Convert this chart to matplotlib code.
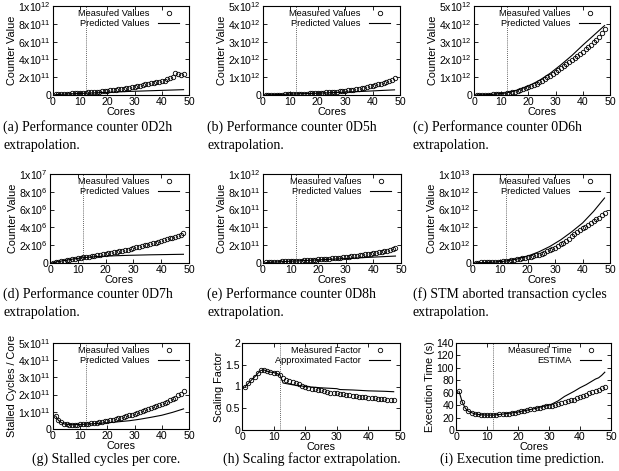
import matplotlib
matplotlib.use('Agg')
import matplotlib.pyplot as plt

plt.rcParams['font.family'] = ['Liberation Sans', 'DejaVu Sans']
plt.rcParams['mathtext.default'] = 'regular'

W, H = 619, 471

cores = list(range(1, 49))
pred_cores = [1, 2, 3, 4, 6, 8, 12, 16, 20, 24, 28, 32, 36, 40, 44, 48]

# (a) 0D2h, units of 1e11
meas_a = [0.10, 0.11, 0.12, 0.13, 0.14, 0.15, 0.17, 0.19, 0.21, 0.23, 0.25, 0.27,
          0.29, 0.31, 0.33, 0.36, 0.39, 0.42, 0.45, 0.48, 0.52, 0.56, 0.60, 0.64,
          0.68, 0.73, 0.78, 0.83, 0.89, 0.95, 1.00, 1.05, 1.12, 1.18, 1.25, 1.32,
          1.38, 1.45, 1.50, 1.55, 1.62, 1.75, 1.95, 2.05, 2.45, 2.40, 2.20, 2.35]
pred_a = [0.05, 0.06, 0.08, 0.09, 0.12, 0.15, 0.20, 0.25, 0.30, 0.35, 0.40, 0.44,
          0.48, 0.52, 0.56, 0.60]

# (b) 0D5h, units of 1e12
meas_b = [0.010, 0.012, 0.015, 0.018, 0.020, 0.024, 0.028, 0.032, 0.037, 0.042, 0.047, 0.053,
          0.059, 0.065, 0.072, 0.079, 0.087, 0.095, 0.104, 0.113, 0.123, 0.133, 0.144, 0.156,
          0.168, 0.181, 0.195, 0.210, 0.226, 0.243, 0.262, 0.282, 0.304, 0.328, 0.354, 0.382,
          0.412, 0.444, 0.478, 0.515, 0.555, 0.598, 0.644, 0.693, 0.745, 0.800, 0.860, 0.950]
pred_b = [0.005, 0.010, 0.015, 0.020, 0.030, 0.040, 0.060, 0.080, 0.100, 0.125, 0.150, 0.175,
          0.200, 0.230, 0.260, 0.290]

# (c) 0D6h, units of 1e12
meas_c = [0.010, 0.012, 0.015, 0.018, 0.022, 0.027, 0.033, 0.040, 0.050, 0.065, 0.080, 0.100,
          0.125, 0.155, 0.190, 0.230, 0.270, 0.320, 0.370, 0.430, 0.490, 0.560, 0.630, 0.710,
          0.800, 0.890, 0.990, 1.090, 1.200, 1.310, 1.410, 1.520, 1.630, 1.740, 1.850, 1.960,
          2.080, 2.200, 2.310, 2.430, 2.560, 2.690, 2.820, 2.960, 3.100, 3.280, 3.480, 3.700]
pred_c = [0.005, 0.008, 0.012, 0.018, 0.030, 0.050, 0.120, 0.270, 0.500, 0.820, 1.220, 1.700,
          2.220, 2.800, 3.350, 3.900]

# (d) 0D7h, units of 1e6
meas_d = [0.05, 0.10, 0.16, 0.22, 0.27, 0.32, 0.37, 0.43, 0.48, 0.53, 0.58, 0.63,
          0.68, 0.73, 0.79, 0.84, 0.90, 0.95, 1.00, 1.04, 1.09, 1.14, 1.19, 1.25,
          1.30, 1.36, 1.42, 1.48, 1.54, 1.70, 1.76, 1.83, 1.90, 1.97, 2.05, 2.13,
          2.21, 2.30, 2.40, 2.50, 2.58, 2.67, 2.76, 2.86, 2.96, 3.07, 3.20, 3.35]
pred_d = [0.05, 0.10, 0.16, 0.22, 0.32, 0.43, 0.60, 0.70, 0.77, 0.82, 0.86, 0.89,
          0.92, 0.94, 0.96, 0.98]

# (e) 0D8h, units of 1e11
meas_e = [0.10, 0.11, 0.12, 0.14, 0.15, 0.16, 0.17, 0.19, 0.20, 0.22, 0.23, 0.25,
          0.26, 0.28, 0.30, 0.32, 0.34, 0.36, 0.38, 0.40, 0.42, 0.44, 0.47, 0.49,
          0.52, 0.55, 0.58, 0.61, 0.64, 0.68, 0.72, 0.75, 0.79, 0.83, 0.88, 0.92,
          0.96, 1.01, 1.05, 1.10, 1.16, 1.22, 1.28, 1.34, 1.40, 1.48, 1.56, 1.65]
pred_e = [0.05, 0.06, 0.08, 0.10, 0.13, 0.17, 0.23, 0.29, 0.35, 0.41, 0.47, 0.53,
          0.60, 0.66, 0.72, 0.78]

# (f) STM aborted transaction cycles, units of 1e12
meas_f = [0.05, 0.05, 0.06, 0.07, 0.08, 0.09, 0.10, 0.11, 0.13, 0.15, 0.18, 0.21,
          0.25, 0.30, 0.35, 0.41, 0.46, 0.51, 0.56, 0.62, 0.70, 0.78, 0.86, 0.95,
          1.05, 1.17, 1.30, 1.43, 1.56, 1.70, 1.90, 2.10, 2.30, 2.52, 2.75, 2.98,
          3.21, 3.44, 3.67, 3.90, 4.10, 4.30, 4.50, 4.70, 4.90, 5.10, 5.35, 5.65]
pred_f = [0.02, 0.03, 0.04, 0.05, 0.07, 0.10, 0.22, 0.45, 0.78, 1.25, 1.85, 2.60,
          3.50, 4.50, 5.80, 7.30]

# (g) stalled cycles per core, units of 1e11
meas_g = [0.75, 0.50, 0.38, 0.30, 0.27, 0.25, 0.25, 0.25, 0.26, 0.27, 0.28, 0.30,
          0.31, 0.33, 0.35, 0.37, 0.40, 0.42, 0.45, 0.48, 0.51, 0.54, 0.58, 0.62,
          0.66, 0.70, 0.74, 0.79, 0.84, 0.89, 0.94, 0.99, 1.04, 1.10, 1.15, 1.21,
          1.27, 1.33, 1.39, 1.45, 1.52, 1.59, 1.66, 1.74, 1.82, 1.95, 2.05, 2.20]
pred_g = [0.75, 0.50, 0.38, 0.30, 0.25, 0.25, 0.28, 0.32, 0.36, 0.42, 0.48, 0.57,
          0.68, 0.80, 0.97, 1.17]

# (h) scaling factor
meas_h = [1.00, 1.07, 1.15, 1.22, 1.30, 1.37, 1.38, 1.35, 1.33, 1.32, 1.30, 1.27,
          1.20, 1.15, 1.12, 1.10, 1.07, 1.05, 1.02, 1.00, 0.97, 0.95, 0.94, 0.92,
          0.91, 0.89, 0.88, 0.86, 0.85, 0.84, 0.83, 0.82, 0.81, 0.80, 0.79, 0.78,
          0.77, 0.76, 0.75, 0.74, 0.73, 0.73, 0.72, 0.71, 0.71, 0.70, 0.70, 0.68]
approx_h_cores = [1, 2, 3, 4, 5, 6, 7, 8, 9, 10, 11, 12, 13, 16, 20, 25, 30, 31, 35, 40, 45, 48]
approx_h = [1.00, 1.07, 1.15, 1.22, 1.30, 1.37, 1.38, 1.35, 1.33, 1.32, 1.30, 1.27,
            1.08, 1.04, 1.00, 0.97, 0.95, 0.93, 0.92, 0.90, 0.89, 0.88]

# (i) execution time (s)
meas_i = [62, 45, 35, 30, 28, 26, 25, 24.5, 24, 24, 24, 24,
          24.5, 25, 25.5, 26, 26.5, 27, 28, 29, 30, 31, 32, 33,
          34, 35, 36, 37, 38, 38, 39, 40, 42, 43, 45, 46,
          48, 49, 51, 53, 55, 57, 59, 61, 63, 65, 67, 70]
estima_cores = [1, 2, 3, 4, 5, 6, 8, 10, 12, 15, 20, 25, 28, 30, 31, 33, 35, 38,
                40, 42, 44, 45, 46, 47, 48]
estima_i = [62, 45, 35, 30, 28, 26, 24.5, 24, 24, 25.5, 29, 34, 38, 40, 42, 47, 54, 62,
            68, 73, 79, 82, 84, 88, 93]

ticks_2_10_11_12 = ['0', r'2x10$^{11}$', r'4x10$^{11}$', r'6x10$^{11}$', r'8x10$^{11}$', r'1x10$^{12}$']
ticks_1_5_12 = ['0', r'1x10$^{12}$', r'2x10$^{12}$', r'3x10$^{12}$', r'4x10$^{12}$', r'5x10$^{12}$']
ticks_d = ['0', r'2x10$^{6}$', r'4x10$^{6}$', r'6x10$^{6}$', r'8x10$^{6}$', r'1x10$^{7}$']
ticks_f = ['0', r'2x10$^{12}$', r'4x10$^{12}$', r'6x10$^{12}$', r'8x10$^{12}$', r'1x10$^{13}$']
ticks_g = ['0', r'1x10$^{11}$', r'2x10$^{11}$', r'3x10$^{11}$', r'4x10$^{11}$', r'5x10$^{11}$']

# left, top, right, bottom in pixels
panels = [
    dict(box=(53, 6, 189, 95), mx=cores, my=meas_a, px=pred_cores, py=pred_a,
         yt=[0, 2, 4, 6, 8, 10], ytl=ticks_2_10_11_12, ylabel='Counter Value',
         leg=('Measured Values', 'Predicted Values'),
         cap=['(a) Performance counter 0D2h', 'extrapolation.'], cx=3, cy=131, ha='left'),
    dict(box=(263, 6, 400, 95), mx=cores, my=meas_b, px=pred_cores, py=pred_b,
         yt=[0, 1, 2, 3, 4, 5], ytl=ticks_1_5_12, ylabel='Counter Value',
         leg=('Measured Values', 'Predicted Values'),
         cap=['(b) Performance counter 0D5h', 'extrapolation.'], cx=207, cy=131, ha='left'),
    dict(box=(474, 6, 610, 95), mx=cores, my=meas_c, px=pred_cores, py=pred_c,
         yt=[0, 1, 2, 3, 4, 5], ytl=ticks_1_5_12, ylabel='Counter Value',
         leg=('Measured Values', 'Predicted Values'),
         cap=['(c) Performance counter 0D6h', 'extrapolation.'], cx=413, cy=131, ha='left'),
    dict(box=(50, 174, 189, 263), mx=cores, my=meas_d, px=pred_cores, py=pred_d,
         yt=[0, 2, 4, 6, 8, 10], ytl=ticks_d, ylabel='Counter Value',
         leg=('Measured Values', 'Predicted Values'),
         cap=['(d) Performance counter 0D7h', 'extrapolation.'], cx=3, cy=298, ha='left'),
    dict(box=(263, 174, 401, 263), mx=cores, my=meas_e, px=pred_cores, py=pred_e,
         yt=[0, 2, 4, 6, 8, 10], ytl=ticks_2_10_11_12, ylabel='Counter Value',
         leg=('Measured Values', 'Predicted Values'),
         cap=['(e) Performance counter 0D8h', 'extrapolation.'], cx=207, cy=298, ha='left'),
    dict(box=(473, 174, 610, 263), mx=cores, my=meas_f, px=pred_cores, py=pred_f,
         yt=[0, 2, 4, 6, 8, 10], ytl=ticks_f, ylabel='Counter Value',
         leg=('Measured Values', 'Predicted Values'),
         cap=['(f) STM aborted transaction cycles', 'extrapolation.'], cx=413, cy=298, ha='left'),
    dict(box=(53, 343, 189, 429), mx=cores, my=meas_g, px=pred_cores, py=pred_g,
         yt=[0, 1, 2, 3, 4, 5], ytl=ticks_g, ylabel='Stalled Cycles / Core',
         leg=('Measured Values', 'Predicted Values'),
         cap=['(g) Stalled cycles per core.'], cx=106, cy=463, ha='center'),
    dict(box=(242, 343, 400, 430), mx=cores, my=meas_h, px=approx_h_cores, py=approx_h,
         yt=[0, 0.5, 1, 1.5, 2], ytl=['0', '0.5', '1', '1.5', '2'], ylabel='Scaling Factor',
         leg=('Measured Factor', 'Approximated Factor'),
         cap=['(h) Scaling factor extrapolation.'], cx=312, cy=463, ha='center'),
    dict(box=(456, 343, 611, 430), mx=cores, my=meas_i, px=estima_cores, py=estima_i,
         yt=[0, 20, 40, 60, 80, 100, 120, 140], ytl=['0', '20', '40', '60', '80', '100', '120', '140'],
         ylabel='Execution Time (s)',
         leg=('Measured Time', 'ESTIMA'),
         cap=['(i) Execution time prediction.'], cx=522, cy=463, ha='center'),
]

fig = plt.figure(figsize=(W / 100, H / 100), dpi=100)

for p in panels:
    l, t, r, b = p['box']
    ax = fig.add_axes([l / W, 1 - b / H, (r - l) / W, (b - t) / H])
    ax.plot(p['mx'], p['my'], 'o', mfc='none', mec='black', ms=3.2, mew=0.6,
            label=p['leg'][0])
    ax.plot(p['px'], p['py'], '-', color='black', lw=0.8, label=p['leg'][1])
    ax.axvline(12, color='#333333', lw=0.6, ls=(0, (1, 1.5)))
    ax.set_xlim(0, 50)
    ax.set_ylim(p['yt'][0], p['yt'][-1])
    ax.set_xticks([0, 10, 20, 30, 40, 50])
    ax.set_yticks(p['yt'])
    ax.set_yticklabels(p['ytl'])
    ax.tick_params(direction='in', top=True, right=True, length=3, width=0.6,
                   labelsize=7.6, pad=1.5)
    for s in ax.spines.values():
        s.set_linewidth(0.8)
    ax.set_xlabel('Cores', fontsize=7.8, labelpad=0)
    ax.set_ylabel(p['ylabel'], fontsize=7.8, labelpad=1)
    # gnuplot-like key: right-justified text, sample on the right
    ax.legend(loc='upper right', bbox_to_anchor=(1 - 7 / (r - l), 1.0),
              frameon=False, markerfirst=False, fontsize=6.7,
              handlelength=2.3, handletextpad=0.85, labelspacing=0.12,
              borderaxespad=0.2, borderpad=0.1, numpoints=1)
    for k, line in enumerate(p['cap']):
        fig.text(p['cx'] / W, 1 - (p['cy'] + 18 * k) / H, line, ha=p['ha'],
                 va='baseline', fontsize=10, family='Liberation Serif')

fig.savefig('out.png', dpi=100)
